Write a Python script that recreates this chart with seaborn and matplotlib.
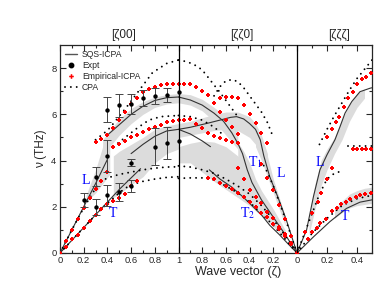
import matplotlib
matplotlib.use("Agg")
import matplotlib.pyplot as plt
from matplotlib.lines import Line2D
import numpy as np
import pandas as pd
import seaborn as sns

# Panels: 1 = [z00] (G->X), 2 = [zz0] (drawn from X back to G), 3 = [zzz]
# every branch is (zeta values, frequency in THz)

# SQS-ICPA (solid lines)
sqs1_L = ([0, 0.1, 0.2, 0.3, 0.4], [0, 1.0, 2.0, 3.0, 4.05])
sqs1_T = ([0, 0.1, 0.2, 0.3, 0.4, 0.5, 0.6, 0.68], [0, 0.55, 1.1, 1.65, 2.2, 2.75, 3.25, 3.65])
sqs1_Lup = ([0.4, 0.5, 0.6, 0.7, 0.8, 0.9, 1.0], [5.1, 5.55, 6.0, 6.35, 6.6, 6.72, 6.75])
sqs1_Tup = ([0.6, 0.65, 0.7, 0.8, 0.9, 1.0], [4.3, 4.5, 4.7, 5.05, 5.28, 5.35])
sqs2_T1 = ([1.0, 0.9, 0.8, 0.7, 0.62, 0.55, 0.5, 0.46, 0.42, 0.38, 0.3, 0.2, 0.1, 0],
           [6.75, 6.62, 6.4, 6.05, 5.7, 5.2, 4.75, 4.3, 3.6, 3.05, 2.3, 1.55, 0.8, 0])
sqs2_L = ([1.0, 0.9, 0.75, 0.65, 0.56, 0.51, 0.45, 0.4, 0.35, 0.31, 0.28, 0.23, 0.16, 0.09, 0],
          [5.35, 5.44, 5.62, 5.75, 5.87, 5.9, 5.8, 5.6, 5.35, 4.9, 4.2, 3.3, 2.4, 1.43, 0])
sqs2_X = ([1.0, 0.9, 0.8, 0.73], [5.35, 5.15, 4.85, 4.6])
sqs2_T2 = ([0.74, 0.65, 0.55, 0.45, 0.37, 0.3, 0.23, 0.15, 0.08, 0],
           [3.6, 3.2, 2.85, 2.4, 2.0, 1.65, 1.2, 0.8, 0.42, 0])
sqs3_L = ([0, 0.064, 0.11, 0.153, 0.2, 0.253, 0.287, 0.32, 0.365, 0.42, 0.487, 0.5],
          [0, 1.0, 2.45, 3.6, 4.25, 4.9, 5.47, 6.05, 6.55, 6.98, 7.13, 7.15])
sqs3_T = ([0, 0.11, 0.22, 0.33, 0.42, 0.5], [0, 0.7, 1.36, 1.93, 2.2, 2.3])

# SQS-ICPA widths (grey bands): zeta, lower, upper
band1_L = ([0.22, 0.3, 0.36, 0.42], [2.2, 2.6, 3.0, 3.4], [2.5, 3.6, 4.6, 5.3])
band1_Lup = ([0.36, 0.42, 0.5, 0.6, 0.7, 0.8, 0.9, 1.0],
             [4.3, 4.6, 5.1, 5.6, 6.0, 6.3, 6.45, 6.5],
             [4.9, 5.3, 5.8, 6.25, 6.55, 6.75, 6.85, 6.9])
band1_Tup = ([0.45, 0.5, 0.55, 0.6, 0.7, 0.8, 0.9, 1.0],
             [2.4, 2.55, 2.75, 2.95, 3.3, 3.9, 4.3, 4.5],
             [4.2, 4.4, 4.55, 4.7, 5.0, 5.35, 5.5, 5.6])
band2_T1 = ([1.0, 0.9, 0.8, 0.7, 0.6, 0.55, 0.5],
            [6.5, 6.4, 6.15, 5.7, 5.1, 4.8, 4.5],
            [6.9, 6.85, 6.65, 6.3, 5.9, 5.6, 5.3])
band2_L = ([1.0, 0.9, 0.8, 0.7, 0.6, 0.5, 0.4, 0.35, 0.3, 0.25],
           [5.0, 5.1, 5.2, 5.3, 5.35, 5.3, 5.0, 4.7, 4.2, 3.4],
           [5.6, 5.7, 5.85, 6.0, 6.1, 6.1, 5.9, 5.6, 5.1, 4.3])
band2_low = ([1.0, 0.9, 0.8, 0.7, 0.6, 0.5, 0.4, 0.3, 0.2, 0.1],
             [3.9, 3.9, 3.5, 3.1, 2.75, 2.4, 2.05, 1.6, 1.15, 0.6],
             [4.6, 4.75, 4.85, 4.8, 4.6, 4.2, 3.4, 2.6, 1.7, 0.9])
band2_T1low = ([0.5, 0.45, 0.4, 0.35, 0.3, 0.2, 0.1],
               [4.0, 3.4, 2.8, 2.4, 2.1, 1.5, 0.8],
               [4.8, 4.4, 3.9, 3.2, 2.7, 1.9, 1.0])
band2_Llow = ([0.35, 0.3, 0.25, 0.2, 0.15, 0.1],
              [4.6, 4.0, 3.3, 2.6, 1.9, 1.2],
              [5.4, 5.0, 4.2, 3.2, 2.4, 1.6])
band3_L = ([0.08, 0.12, 0.16, 0.2, 0.25, 0.3, 0.35, 0.4, 0.45],
           [0.8, 1.9, 2.9, 3.6, 4.3, 4.9, 5.7, 6.3, 6.7],
           [1.6, 3.0, 4.0, 4.5, 5.0, 5.8, 6.4, 6.9, 7.1])
band3_T = ([0.25, 0.3, 0.35, 0.4, 0.45, 0.5],
           [1.5, 1.75, 1.95, 2.05, 2.1, 2.15],
           [1.9, 2.25, 2.55, 2.7, 2.8, 2.85])

# CPA (dotted)
cpa1_L = ([0, 0.1, 0.2, 0.3, 0.35, 0.4, 0.5, 0.6, 0.7, 0.8, 0.9, 1.0],
          [0, 1.0, 1.95, 2.8, 3.1, 3.25, 3.4, 3.5, 3.6, 3.67, 3.72, 3.73])
cpa1_T = ([0, 0.1, 0.2, 0.3, 0.4, 0.5, 0.55, 0.6, 0.7, 0.8, 0.9, 1.0],
          [0, 0.55, 1.1, 1.65, 2.15, 2.6, 2.8, 2.95, 3.1, 3.2, 3.27, 3.3])
cpa1_Lup = ([0.3, 0.4, 0.45, 0.56, 0.67, 0.78, 0.9, 1.0], [4.9, 5.3, 5.6, 6.3, 7.05, 7.8, 8.2, 8.35])
cpa1_Tup = ([0.45, 0.55, 0.65, 0.75, 0.85, 1.0], [4.6, 5.0, 5.4, 5.75, 5.9, 5.95])
cpa2_up1 = ([1.0, 0.95, 0.9, 0.85, 0.8, 0.75, 0.7, 0.65, 0.6, 0.55, 0.5],
            [8.35, 8.3, 8.22, 8.1, 7.92, 7.6, 7.27, 6.95, 6.6, 6.25, 5.9])
cpa2_up2 = ([0.7, 0.65, 0.6, 0.55, 0.5, 0.45, 0.4, 0.35, 0.3, 0.25, 0.2],
            [6.8, 7.2, 7.45, 7.5, 7.42, 7.15, 6.8, 6.45, 6.1, 5.65, 5.0])
cpa2_Tup = ([1.0, 0.9, 0.8, 0.7, 0.62], [5.95, 5.9, 5.75, 5.45, 5.1])
cpa2_T1 = ([1.0, 0.9, 0.8, 0.7, 0.6, 0.5, 0.4, 0.3, 0.2, 0.1, 0],
           [3.77, 3.72, 3.6, 3.45, 3.2, 2.9, 2.55, 2.05, 1.45, 0.75, 0])
cpa2_T2 = ([1.0, 0.9, 0.8, 0.7, 0.6, 0.5, 0.4, 0.3, 0.2, 0.1, 0],
           [3.23, 3.25, 3.25, 3.15, 2.9, 2.6, 2.2, 1.7, 1.2, 0.6, 0])
cpa2_L = ([0, 0.05, 0.1, 0.15, 0.2, 0.25, 0.3], [0, 0.75, 1.5, 2.2, 2.9, 3.5, 3.95])
cpa3_L = ([0, 0.05, 0.1, 0.15, 0.2, 0.25, 0.3], [0, 0.85, 1.7, 2.55, 3.2, 3.45, 3.55])
cpa3_Lup = ([0.15, 0.2, 0.25, 0.3, 0.35, 0.4, 0.45, 0.5], [4.7, 5.35, 5.95, 6.5, 7.05, 7.55, 7.95, 8.35])
cpa3_T = ([0, 0.1, 0.2, 0.3, 0.4, 0.5], [0, 0.85, 1.5, 2.05, 2.35, 2.5])
cpa3_flat = ([0.34, 0.4, 0.45, 0.5], [4.65, 4.65, 4.65, 4.65])

# Empirical-ICPA (red points)
emp1_L = ([0, 0.05, 0.1, 0.15, 0.2, 0.25, 0.3, 0.35, 0.4], [0, 0.5, 1.0, 1.47, 1.95, 2.38, 2.77, 3.1, 3.5])
emp1_T = ([0.05, 0.1, 0.15, 0.2, 0.25, 0.3, 0.35, 0.4, 0.45, 0.5, 0.55, 0.6, 0.65],
          [0.28, 0.6, 0.8, 1.1, 1.4, 1.65, 1.9, 2.1, 2.25, 2.4, 2.55, 2.9, 3.1])
emp1_Lup = ([0.3, 0.35, 0.4, 0.45, 0.5, 0.55, 0.6, 0.65, 0.7, 0.75, 0.8, 0.85, 0.9, 0.95, 1.0],
            [4.8, 4.95, 5.1, 5.4, 5.75, 6.1, 6.45, 6.7, 6.95, 7.1, 7.2, 7.27, 7.3, 7.3, 7.3])
emp1_Tup = ([0.45, 0.5, 0.55, 0.6, 0.65, 0.7, 0.75, 0.8, 0.85, 0.9, 0.95, 1.0],
            [4.6, 4.72, 4.85, 5.0, 5.1, 5.25, 5.35, 5.45, 5.55, 5.65, 5.72, 5.76])
emp2_A = ([0.95, 0.9, 0.85, 0.8, 0.75, 0.7, 0.65, 0.6, 0.55, 0.5],
          [7.3, 7.3, 7.17, 7.03, 6.84, 6.48, 6.12, 5.76, 5.44, 5.15])
emp2_B = ([0.65, 0.6, 0.55, 0.5, 0.45, 0.4, 0.35, 0.3, 0.25],
          [6.7, 6.77, 6.77, 6.7, 6.4, 6.0, 5.64, 5.2, 4.75])
emp2_C = ([0.95, 0.9, 0.85, 0.8, 0.75, 0.7, 0.65, 0.6, 0.55, 0.5],
          [5.76, 5.8, 5.6, 5.4, 5.2, 5.05, 4.96, 4.89, 4.82, 4.76])
emp2_T2 = ([0.75, 0.7, 0.65, 0.6, 0.55, 0.5, 0.45, 0.4, 0.35, 0.3, 0.25, 0.2, 0.15, 0.1, 0.05, 0],
           [3.26, 3.19, 3.05, 2.9, 2.75, 2.61, 2.44, 2.22, 1.98, 1.75, 1.54, 1.26, 1.02, 0.73, 0.38, 0])
emp2_T1 = ([0.5, 0.45, 0.4, 0.35, 0.3, 0.25, 0.2, 0.15, 0.1, 0.05],
           [3.67, 3.2, 2.73, 2.44, 2.15, 1.79, 1.5, 1.14, 0.82, 0.42])
emp2_L = ([0.3, 0.25, 0.2, 0.15, 0.1, 0.05], [3.85, 3.23, 2.73, 2.08, 1.46, 0.75])
emp3_L = ([0.05, 0.1, 0.14, 0.16, 0.2, 0.23], [0.9, 1.75, 2.22, 2.6, 3.2, 3.67])
emp3_Lup = ([0.2, 0.23, 0.26, 0.28, 0.31, 0.34, 0.37, 0.4, 0.43, 0.46, 0.49],
            [5.0, 5.35, 5.65, 5.87, 6.3, 6.69, 6.98, 7.3, 7.53, 7.63, 7.8])
emp3_T = ([0.07, 0.1, 0.13, 0.155, 0.19, 0.23, 0.265, 0.295, 0.325, 0.355, 0.39, 0.42, 0.455, 0.49],
          [0.6, 0.92, 1.07, 1.28, 1.47, 1.83, 1.96, 2.1, 2.22, 2.34, 2.44, 2.51, 2.55, 2.58])
emp3_flat = ([0.37, 0.4, 0.43, 0.46, 0.49], [4.49, 4.49, 4.49, 4.49, 4.49])

# Experiment, [z00] only
expt_zeta = [0.2, 0.3, 0.4, 0.3, 0.4, 0.5, 0.6, 0.6, 0.8, 0.9, 1.0, 0.4, 0.5, 0.6, 0.7, 0.8, 0.9, 1.0]
expt_nu = [2.3, 3.3, 4.2, 2.0, 2.5, 2.65, 2.9, 3.9, 4.6, 4.75, 4.85, 6.2, 6.4, 6.45, 6.7, 6.8, 6.85, 6.95]
expt_err = [0.3, 0.4, 0.7, 0.35, 0.45, 0.4, 0.25, 0.15, 0.8, 0.7, 0.0, 0.55, 0.5, 0.45, 0.35, 0.35, 0.3, 0.0]

# mode labels: (panel, zeta, nu, text)
mode_labels = [(1, 0.22, 3.12, "L"), (1, 0.447, 1.73, "T"),
               (2, 0.354, 3.94, r"T$_1$"), (2, 0.135, 3.46, "L"), (2, 0.413, 1.73, r"T$_2$"),
               (3, 0.153, 3.9, "L"), (3, 0.32, 1.56, "T")]
panel_titles = ["[ζ00]", "[ζζ0]", "[ζζζ]"]
tick_zeta = [[0, 0.2, 0.4, 0.6, 0.8, 1.0], [0.8, 0.6, 0.4, 0.2, 0], [0.2, 0.4]]
tick_text = [["0", "0.2", "0.4", "0.6", "0.8", "1"], ["0.8", "0.6", "0.4", "0.2", "0"], ["0.2", "0.4"]]

# third panel is drawn on a slightly stretched scale
P3_SCALE = 150 / 118.5
DOTS = (0, (0.01, 3.0))


def to_u(panel, z):
    z = np.asarray(z, dtype=float)
    if panel == 1:
        return z
    if panel == 2:
        return 2 - z
    return 2 + z * P3_SCALE


def branches_df(branches):
    frames = []
    for i, (panel, (z, nu)) in enumerate(branches):
        frames.append(pd.DataFrame({"u": to_u(panel, z), "nu": nu, "branch": i}))
    return pd.concat(frames, ignore_index=True)


sqs = branches_df([(1, sqs1_L), (1, sqs1_T), (1, sqs1_Lup), (1, sqs1_Tup),
                   (2, sqs2_T1), (2, sqs2_L), (2, sqs2_X), (2, sqs2_T2),
                   (3, sqs3_L), (3, sqs3_T)])
cpa = branches_df([(1, cpa1_L), (1, cpa1_T), (1, cpa1_Lup), (1, cpa1_Tup),
                   (2, cpa2_up1), (2, cpa2_up2), (2, cpa2_Tup), (2, cpa2_T1), (2, cpa2_T2), (2, cpa2_L),
                   (3, cpa3_L), (3, cpa3_Lup), (3, cpa3_T), (3, cpa3_flat)])
emp = branches_df([(1, emp1_L), (1, emp1_T), (1, emp1_Lup), (1, emp1_Tup),
                   (2, emp2_A), (2, emp2_B), (2, emp2_C), (2, emp2_T2), (2, emp2_T1), (2, emp2_L),
                   (3, emp3_L), (3, emp3_Lup), (3, emp3_T), (3, emp3_flat)])
bands = [(1, band1_L), (1, band1_Lup), (1, band1_Tup),
         (2, band2_T1), (2, band2_L), (2, band2_low), (2, band2_T1low), (2, band2_Llow),
         (3, band3_L), (3, band3_T)]
expt = pd.DataFrame({"u": expt_zeta, "nu": expt_nu, "err": expt_err})

sns.set_style("ticks")
plt.rcParams["font.family"] = ["Liberation Sans", "DejaVu Sans"]
plt.rcParams["mathtext.fontset"] = "stix"

fig = plt.figure(figsize=(3.85, 2.98), dpi=100)
ax = fig.add_axes([60 / 385, 45 / 298, 312 / 385, 208 / 298])

for panel, (z, lo, hi) in bands:
    ax.fill_between(to_u(panel, z), lo, hi, color="#dcdcdc", lw=0, zorder=1)

sns.lineplot(data=sqs, x="u", y="nu", units="branch", estimator=None, sort=False,
             color="#333333", lw=0.8, ax=ax, legend=False, zorder=2)
sns.lineplot(data=cpa, x="u", y="nu", units="branch", estimator=None, sort=False,
             color="black", lw=1.4, linestyle=DOTS, dash_capstyle="round",
             ax=ax, legend=False, zorder=3)
sns.scatterplot(data=emp, x="u", y="nu", marker="P", s=8, color="red", linewidth=0,
                ax=ax, legend=False, zorder=4)

has_err = expt[expt["err"] > 0]
ax.errorbar(has_err["u"], has_err["nu"], yerr=has_err["err"], fmt="none", ecolor="#444444",
            elinewidth=0.7, capsize=2.6, capthick=0.7, zorder=5)
sns.scatterplot(data=expt, x="u", y="nu", marker="o", s=10, color="black", linewidth=0,
                ax=ax, legend=False, zorder=6)

ax.axvline(1, color="black", lw=0.9, zorder=6)
ax.axvline(2, color="black", lw=0.9, zorder=6)

for panel, z, nu, txt in mode_labels:
    ax.text(float(to_u(panel, z)), nu, txt, color="blue", fontsize=10,
            fontfamily="Liberation Serif", ha="center", va="center", zorder=7)

ax.set_xlim(0, float(to_u(3, 0.5)))
ax.set_ylim(0, 9)

major_u, major_lab = [], []
for p, (zs, labs) in enumerate(zip(tick_zeta, tick_text), start=1):
    major_u += list(to_u(p, zs))
    major_lab += labs
ax.set_xticks(major_u)
ax.set_xticklabels(major_lab)
minor_u = list(to_u(1, [0.1, 0.3, 0.5, 0.7, 0.9])) + list(to_u(2, [0.9, 0.7, 0.5, 0.3, 0.1])) \
    + list(to_u(3, [0.1, 0.3, 0.5]))
ax.set_xticks(minor_u, minor=True)
ax.set_yticks([0, 2, 4, 6, 8])
ax.set_yticks([1, 3, 5, 7], minor=True)
ax.tick_params(which="both", direction="in", top=True, right=True, labelsize=6.8, pad=2.5)
ax.tick_params(which="major", length=4.3, width=0.8)
ax.tick_params(which="minor", length=2.2, width=0.8)
for s in ax.spines.values():
    s.set_linewidth(0.9)

ax.set_xlabel("Wave vector (ζ)", fontsize=9, va="center")
ax.xaxis.set_label_coords(0.572, -0.091)
ax.set_ylabel("ν (THz)", fontsize=8.5, va="center")
ax.yaxis.set_label_coords(-0.061, 0.5)

for x_px, title in zip([124, 242, 339], panel_titles):
    fig.text(x_px / 385, 1 - 35 / 298, title, ha="center", va="center", fontsize=8.5)

handles = [Line2D([], [], color="#555555", lw=1.0),
           Line2D([], [], color="black", marker="o", ms=3.2, ls="none"),
           Line2D([], [], color="red", marker="P", ms=3.3, ls="none", mew=0),
           Line2D([], [], color="black", lw=1.4, ls=DOTS, dash_capstyle="round")]
ax.legend(handles, ["SQS-ICPA", "Expt", "Empirical-ICPA", "CPA"], loc="upper left",
          frameon=False, fontsize=6.2, handlelength=1.4, handletextpad=0.6,
          labelspacing=0.25, borderaxespad=0.25, borderpad=0.3)

fig.savefig("out.png", dpi=100)
